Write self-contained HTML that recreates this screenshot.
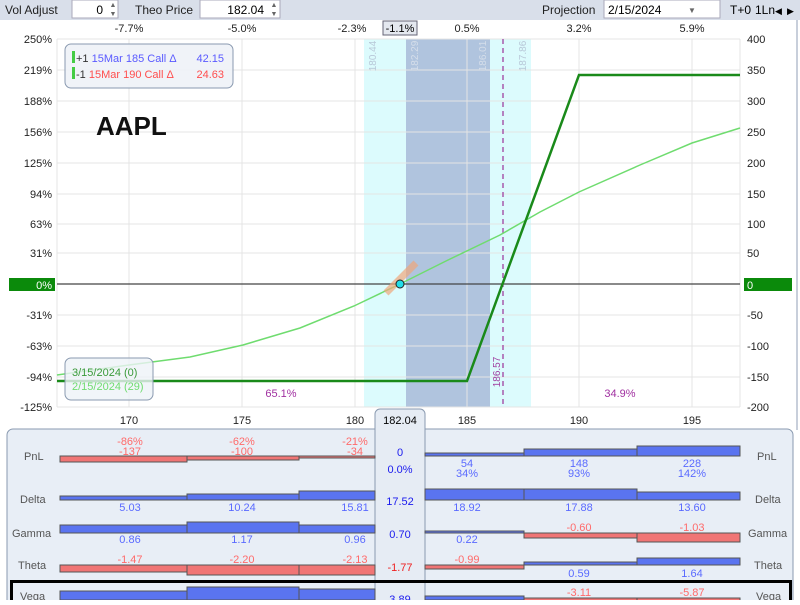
<!DOCTYPE html>
<html><head><meta charset="utf-8"><style>
body{margin:0;width:800px;height:600px;overflow:hidden;background:#fff;font-family:"Liberation Sans",sans-serif}
svg text{font-family:"Liberation Sans",sans-serif}
</style></head><body>
<svg width="800" height="600" xmlns="http://www.w3.org/2000/svg" font-size="11">
<!-- toolbar -->
<rect x="0" y="0" width="800" height="20" fill="#d9dfea"/>
<text x="5" y="14" font-size="12" fill="#222">Vol Adjust</text>
<rect x="72" y="0" width="46" height="18" fill="#fff" stroke="#aab"/>
<text x="103" y="14" font-size="12" text-anchor="end">0</text>
<text x="113" y="7" font-size="7" fill="#666" text-anchor="middle">▲</text><text x="113" y="16" font-size="7" fill="#666" text-anchor="middle">▼</text>
<text x="135" y="14" font-size="12" fill="#222">Theo Price</text>
<rect x="200" y="0" width="80" height="18" fill="#fff" stroke="#aab"/>
<text x="264" y="14" font-size="12" text-anchor="end">182.04</text>
<text x="274" y="7" font-size="7" fill="#666" text-anchor="middle">▲</text><text x="274" y="16" font-size="7" fill="#666" text-anchor="middle">▼</text>
<text x="542" y="14" font-size="12" fill="#222">Projection</text>
<rect x="604" y="0" width="116" height="18" fill="#fff" stroke="#aab"/>
<text x="608" y="14" font-size="12">2/15/2024</text>
<text x="688" y="13" font-size="8" fill="#666">▼</text>
<text x="730" y="14" font-size="12">T+0</text>
<text x="755" y="14" font-size="12">1Ln</text>
<text x="775" y="14" font-size="9">◀</text><text x="787" y="14" font-size="9">▶</text>
<line x1="797" y1="20" x2="797" y2="430" stroke="#c8cfdb" stroke-width="2"/>

<!-- bands -->
<rect x="364" y="39" width="167" height="368" fill="#dcfbfd"/>
<rect x="406" y="39" width="84" height="368" fill="#b0c4de"/>
<!-- grid -->
<g stroke="#e4e4e4" stroke-width="1">
<line x1="57" y1="39" x2="740" y2="39"/><line x1="57" y1="70" x2="740" y2="70"/><line x1="57" y1="101" x2="740" y2="101"/><line x1="57" y1="132" x2="740" y2="132"/><line x1="57" y1="163" x2="740" y2="163"/><line x1="57" y1="194" x2="740" y2="194"/><line x1="57" y1="224" x2="740" y2="224"/><line x1="57" y1="253" x2="740" y2="253"/><line x1="57" y1="315" x2="740" y2="315"/><line x1="57" y1="346" x2="740" y2="346"/><line x1="57" y1="377" x2="740" y2="377"/><line x1="57" y1="407" x2="740" y2="407"/>
<line x1="129" y1="39" x2="129" y2="407"/><line x1="242" y1="39" x2="242" y2="407"/><line x1="355" y1="39" x2="355" y2="407"/><line x1="467" y1="39" x2="467" y2="407"/><line x1="579" y1="39" x2="579" y2="407"/><line x1="692" y1="39" x2="692" y2="407"/>
<line x1="57" y1="39" x2="57" y2="407"/><line x1="740" y1="39" x2="740" y2="407"/>
</g>
<g font-size="10" fill="#b8c8d8" text-anchor="middle">
<text transform="translate(376,56) rotate(-90)">180.44</text>
<text transform="translate(418,56) rotate(-90)" fill="#d5deea">182.29</text>
<text transform="translate(486,56) rotate(-90)" fill="#d5deea">186.01</text>
<text transform="translate(526,56) rotate(-90)">187.86</text>
</g>
<line x1="503" y1="39" x2="503" y2="407" stroke="#a040a0" stroke-width="1.3" stroke-dasharray="5,4"/>
<text transform="translate(500,372) rotate(-90)" font-size="10" fill="#a040a0" text-anchor="middle">186.57</text>
<line x1="57" y1="284" x2="740" y2="284" stroke="#444" stroke-width="1.2"/>

<!-- curves -->
<polyline fill="none" stroke="#6fdc6f" stroke-width="1.5" points="57,375 129,365 190,357 243,345 300,328 354,306 400,284 446,261 500,235 540,212 579,192 640,165 692,143 740,128"/>
<line x1="386" y1="293" x2="416" y2="263" stroke="#f0a67a" stroke-opacity="0.7" stroke-width="7"/>
<polyline fill="none" stroke="#1a8a1a" stroke-width="2.5" points="57,381 467,381 579,75 740,75"/>
<circle cx="400" cy="284" r="4" fill="#22dde8" stroke="#222" stroke-width="1"/>

<!-- axes labels -->
<g font-size="11" fill="#222" text-anchor="end">
<text x="52" y="43">250%</text><text x="52" y="74">219%</text><text x="52" y="105">188%</text><text x="52" y="136">156%</text><text x="52" y="167">125%</text><text x="52" y="198">94%</text><text x="52" y="228">63%</text><text x="52" y="257">31%</text><text x="52" y="319">-31%</text><text x="52" y="350">-63%</text><text x="52" y="381">-94%</text><text x="52" y="411">-125%</text>
</g>
<rect x="9" y="278" width="46" height="13" fill="#0b8a0b"/><text x="52" y="289" fill="#fff" text-anchor="end">0%</text>
<g font-size="11" fill="#222">
<text x="747" y="43">400</text><text x="747" y="74">350</text><text x="747" y="105">300</text><text x="747" y="136">250</text><text x="747" y="167">200</text><text x="747" y="198">150</text><text x="747" y="228">100</text><text x="747" y="257">50</text><text x="747" y="319">-50</text><text x="747" y="350">-100</text><text x="747" y="381">-150</text><text x="747" y="411">-200</text>
</g>
<rect x="744" y="278" width="48" height="13" fill="#0b8a0b"/><text x="747" y="289" fill="#fff">0</text>
<g font-size="11" fill="#222" text-anchor="middle">
<text x="129" y="32">-7.7%</text><text x="242" y="32">-5.0%</text><text x="352" y="32">-2.3%</text><text x="467" y="32">0.5%</text><text x="579" y="32">3.2%</text><text x="692" y="32">5.9%</text>
<text x="129" y="424">170</text><text x="242" y="424">175</text><text x="355" y="424">180</text><text x="467" y="424">185</text><text x="579" y="424">190</text><text x="692" y="424">195</text>
</g>
<rect x="383" y="21" width="34" height="14" fill="#e4e8ef" stroke="#667"/><text x="400" y="32" text-anchor="middle">-1.1%</text>
<text x="281" y="397" font-size="11" fill="#a030a0" text-anchor="middle">65.1%</text>
<text x="620" y="397" font-size="11" fill="#a030a0" text-anchor="middle">34.9%</text>

<!-- legends -->
<rect x="65" y="44" width="168" height="44" rx="6" fill="#eef2f7" fill-opacity="0.9" stroke="#8a9ab0"/>
<rect x="72" y="51" width="3" height="12" fill="#44cc44"/><rect x="72" y="67" width="3" height="12" fill="#44cc44"/>
<text x="76" y="62" font-size="11"><tspan fill="#333">+1 </tspan><tspan fill="#5a5aff">15Mar 185 Call Δ</tspan></text><text x="224" y="62" font-size="11" fill="#5a5aff" text-anchor="end">42.15</text>
<text x="76" y="78" font-size="11"><tspan fill="#333">-1 </tspan><tspan fill="#ff4d4d">15Mar 190 Call Δ</tspan></text><text x="224" y="78" font-size="11" fill="#ff4d4d" text-anchor="end">24.63</text>
<text x="96" y="135" font-size="26" font-weight="bold" fill="#111">AAPL</text>
<rect x="65" y="358" width="88" height="42" rx="6" fill="#eef2f7" fill-opacity="0.8" stroke="#8a9ab0"/>
<text x="72" y="376" font-size="11" fill="#3a9a3a">3/15/2024 (0)</text>
<text x="72" y="390" font-size="11" fill="#6fdc6f">2/15/2024 (29)</text>

<!-- bottom panel -->
<rect x="7" y="429" width="786" height="180" rx="6" fill="#e8eef6" stroke="#8a9ab0"/>
<rect x="375" y="409" width="50" height="200" rx="5" fill="#e6ecf4" stroke="#8a9ab0"/>
<text x="400" y="424" text-anchor="middle" font-size="11">182.04</text>
<g font-size="11" fill="#555">
<text x="24" y="460">PnL</text><text x="20" y="503">Delta</text><text x="12" y="537">Gamma</text><text x="18" y="569">Theta</text>
<text x="757" y="460">PnL</text><text x="755" y="503">Delta</text><text x="748" y="537">Gamma</text><text x="754" y="569">Theta</text>
</g>
<g stroke="#555" stroke-width="1">
<!-- PnL -->
<rect x="60" y="456" width="127" height="6" fill="#f07575"/><rect x="187" y="456" width="112" height="4" fill="#f07575"/><rect x="299" y="456" width="76" height="2" fill="#f07575"/>
<rect x="425" y="453" width="99" height="3" fill="#5a74f0"/><rect x="524" y="449" width="113" height="7" fill="#5a74f0"/><rect x="637" y="446" width="103" height="10" fill="#5a74f0"/>
<!-- Delta -->
<rect x="60" y="496" width="127" height="4" fill="#5a74f0"/><rect x="187" y="494" width="112" height="6" fill="#5a74f0"/><rect x="299" y="491" width="76" height="9" fill="#5a74f0"/>
<rect x="425" y="489" width="99" height="11" fill="#5a74f0"/><rect x="524" y="489" width="113" height="11" fill="#5a74f0"/><rect x="637" y="492" width="103" height="8" fill="#5a74f0"/>
<!-- Gamma -->
<rect x="60" y="525" width="127" height="8" fill="#5a74f0"/><rect x="187" y="522" width="112" height="11" fill="#5a74f0"/><rect x="299" y="525" width="76" height="8" fill="#5a74f0"/>
<rect x="425" y="531" width="99" height="2" fill="#5a74f0"/><rect x="524" y="533" width="113" height="5" fill="#f07575"/><rect x="637" y="533" width="103" height="9" fill="#f07575"/>
<!-- Theta -->
<rect x="60" y="565" width="127" height="7" fill="#f07575"/><rect x="187" y="565" width="112" height="10" fill="#f07575"/><rect x="299" y="565" width="76" height="10" fill="#f07575"/>
<rect x="425" y="565" width="99" height="4" fill="#f07575"/><rect x="524" y="562" width="113" height="3" fill="#5a74f0"/><rect x="637" y="558" width="103" height="7" fill="#5a74f0"/>
<!-- Vega -->
<rect x="60" y="591" width="127" height="9" fill="#5a74f0"/><rect x="187" y="587" width="112" height="13" fill="#5a74f0"/><rect x="299" y="589" width="76" height="11" fill="#5a74f0"/>
<rect x="425" y="596" width="99" height="4" fill="#5a74f0"/><rect x="524" y="598" width="113" height="4" fill="#f07575"/><rect x="637" y="598" width="103" height="4" fill="#f07575"/>
</g>
<g font-size="11" text-anchor="middle" fill="#ff6a6a">
<text x="130" y="445">-86%</text><text x="130" y="455">-137</text>
<text x="242" y="445">-62%</text><text x="242" y="455">-100</text>
<text x="355" y="445">-21%</text><text x="355" y="455">-34</text>
<text x="579" y="531">-0.60</text><text x="692" y="531">-1.03</text>
<text x="130" y="563">-1.47</text><text x="242" y="563">-2.20</text><text x="355" y="563">-2.13</text><text x="467" y="563">-0.99</text>
<text x="579" y="596">-3.11</text><text x="692" y="596">-5.87</text>
</g>
<g font-size="11" text-anchor="middle" fill="#5a6aff">
<text x="467" y="467">54</text><text x="467" y="477">34%</text>
<text x="579" y="467">148</text><text x="579" y="477">93%</text>
<text x="692" y="467">228</text><text x="692" y="477">142%</text>
<text x="130" y="511">5.03</text><text x="242" y="511">10.24</text><text x="355" y="511">15.81</text><text x="467" y="511">18.92</text><text x="579" y="511">17.88</text><text x="692" y="511">13.60</text>
<text x="130" y="543">0.86</text><text x="242" y="543">1.17</text><text x="355" y="543">0.96</text><text x="467" y="543">0.22</text>
<text x="579" y="577">0.59</text><text x="692" y="577">1.64</text>
</g>
<g font-size="11" text-anchor="middle" fill="#1a1aee">
<text x="400" y="456">0</text><text x="400" y="473">0.0%</text><text x="400" y="505">17.52</text><text x="400" y="538">0.70</text><text x="400" y="571" fill="#ee2222">-1.77</text><text x="400" y="603">3.89</text>
</g>
<rect x="11.5" y="581.5" width="779" height="30" fill="none" stroke="#000" stroke-width="3"/>
<text x="20" y="600" font-size="11" fill="#555">Vega</text><text x="756" y="600" font-size="11" fill="#555">Vega</text>
</svg>
</body></html>
